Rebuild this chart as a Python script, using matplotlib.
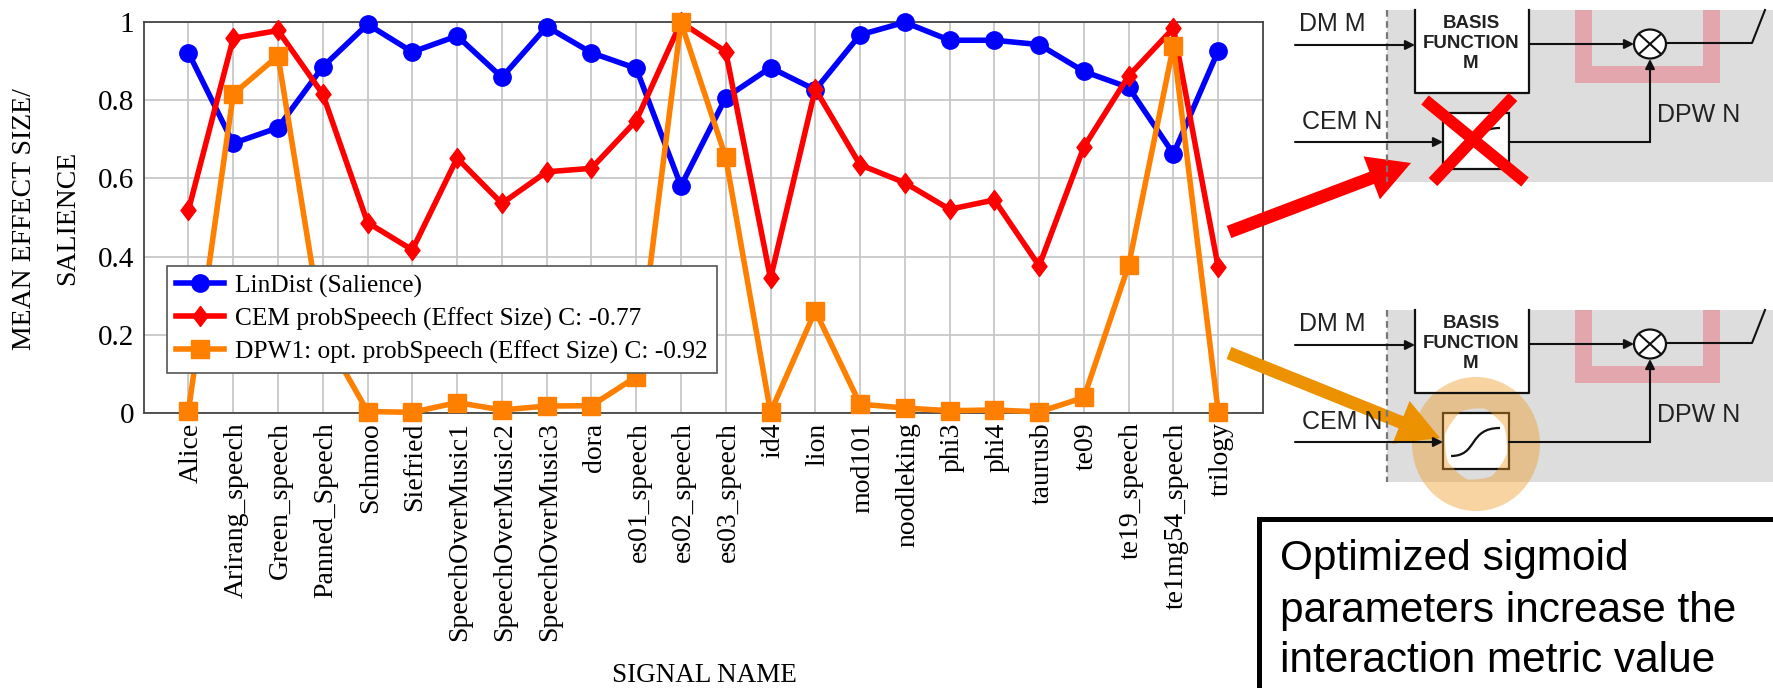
import matplotlib
matplotlib.use("Agg")
import matplotlib.pyplot as plt
from matplotlib.patches import Rectangle, Polygon, Ellipse, FancyArrow, PathPatch
from matplotlib.path import Path
from matplotlib.transforms import Affine2D, ScaledTranslation

signal_names = ["Alice", "Arirang_speech", "Green_speech", "Panned_Speech", "Schmoo", "Siefried",
                "SpeechOverMusic1", "SpeechOverMusic2", "SpeechOverMusic3", "dora", "es01_speech",
                "es02_speech", "es03_speech", "id4", "lion", "mod101", "noodleking", "phi3", "phi4",
                "taurusb", "te09", "te19_speech", "te1mg54_speech", "trilogy"]
lindist = [0.922, 0.69, 0.73, 0.886, 0.995, 0.924, 0.965, 0.859, 0.989, 0.922, 0.882, 0.581,
           0.807, 0.884, 0.827, 0.968, 1.0, 0.954, 0.954, 0.943, 0.874, 0.833, 0.663, 0.927]
cem = [0.519, 0.959, 0.979, 0.816, 0.487, 0.417, 0.652, 0.536, 0.617, 0.626, 0.748, 1.0,
       0.925, 0.344, 0.829, 0.635, 0.589, 0.521, 0.545, 0.376, 0.681, 0.863, 0.985, 0.372]
dpw = [0.005, 0.816, 0.914, 0.205, 0.003, 0.001, 0.026, 0.007, 0.017, 0.018, 0.092, 1.0,
       0.654, 0.001, 0.261, 0.022, 0.012, 0.005, 0.007, 0.002, 0.039, 0.378, 0.94, 0.002]
y_ticks = [0, 0.2, 0.4, 0.6, 0.8, 1]
y_tick_labels = ["0", "0.2", "0.4", "0.6", "0.8", "1"]

W, H = 1773, 688
SERIF = "Liberation Serif"
SANS = "Liberation Sans"

fig = plt.figure(figsize=(W / 100, H / 100), dpi=100)
ax = fig.add_axes([143.7 / W, (H - 412.7) / H, 1119.3 / W, 390.4 / H])

diamond = Path([(0, -1), (0.75, 0), (0, 1), (-0.75, 0), (0, -1)], closed=True)
x = list(range(len(signal_names)))
ax.plot(x, lindist, color="#0000ff", lw=4, marker="o", ms=12.5, clip_on=False, zorder=3,
        label="LinDist (Salience)")
ax.plot(x, cem, color="#ff0000", lw=4, marker=diamond, ms=14.4, clip_on=False, zorder=4,
        label="CEM probSpeech (Effect Size) C: -0.77")
ax.plot(x, dpw, color="#ff8000", lw=4, marker="s", ms=12.5, clip_on=False, zorder=5,
        label="DPW1: opt. probSpeech (Effect Size) C: -0.92")

ax.set_xlim(-1, 24)
ax.set_ylim(0, 1)
ax.set_xticks(x)
ax.set_xticklabels(signal_names, rotation=90, family=SERIF, fontsize=20, ha="center", va="top")
ax.set_yticks(y_ticks)
ax.set_yticklabels(y_tick_labels, family=SERIF, fontsize=21)
ax.tick_params(axis="both", length=0)
ax.tick_params(axis="x", pad=7)
ax.tick_params(axis="y", pad=7)
ax.grid(True, color="#c4c4c4", lw=1.2)
ax.set_axisbelow(True)
for s in ax.spines.values():
    s.set_color("#444444")
    s.set_linewidth(1.3)
# rotated labels sit a little left of their ticks otherwise
shift = ScaledTranslation(2 / 72, 0, fig.dpi_scale_trans)
for lab in ax.get_xticklabels():
    lab.set_transform(lab.get_transform() + shift)

leg = ax.legend(loc="lower left", bbox_to_anchor=((166.7 - 143.7) / 1119.3, (412.7 - 372.7) / 390.4),
                borderaxespad=0, fancybox=False, framealpha=1, edgecolor="#555555",
                prop={"family": SERIF, "size": 18.3}, handlelength=1.9, handletextpad=0.45,
                labelspacing=0.38, borderpad=0.35)
leg.get_frame().set_linewidth(1.2)
leg.set_zorder(6)

# pixel coordinate layer for the block diagrams and the text box
ov = fig.add_axes([0, 0, 1, 1], zorder=10)
ov.set_xlim(0, W)
ov.set_ylim(H, 0)
ov.axis("off")

fig.text(25 / W, 1 - 219 / H, "MEAN EFFECT SIZE/", rotation=90, family=SERIF, fontsize=20,
         ha="center", va="center")
fig.text(68 / W, 1 - 218 / H, "SALIENCE", rotation=90, family=SERIF, fontsize=20,
         ha="center", va="center")
fig.text(704 / W, 1 - 675 / H, "SIGNAL NAME", family=SERIF, fontsize=19.5, ha="center", va="center")


def wire(points, head=False):
    if head:
        ov.plot([p[0] for p in points[:-1]], [p[1] for p in points[:-1]], color="#111111", lw=1.5)
        ov.annotate("", xy=points[-1], xytext=points[-2],
                    arrowprops=dict(arrowstyle="-|>", color="#111111", lw=1.5, mutation_scale=14,
                                    shrinkA=0, shrinkB=0))
    else:
        ov.plot([p[0] for p in points], [p[1] for p in points], color="#111111", lw=1.5)


def draw_block(dy):
    ov.add_patch(Rectangle((1386.5, 10 + dy), W - 1386.5, 172, fc="#dddddd", ec="none"))
    ov.plot([1386.5, 1386.5], [10 + dy, 182 + dy], color="#777777", lw=1.6, ls=(0, (3, 2)))
    ov.add_patch(Polygon([(1574.5, 10 + dy), (1592, 10 + dy), (1592, 66 + dy), (1702.5, 66 + dy),
                          (1702.5, 10 + dy), (1720, 10 + dy), (1720, 83 + dy), (1574.5, 83 + dy)],
                         fc="#e4a6ad", ec="none"))
    ov.add_patch(Rectangle((1415, 10 + dy), 114, 83, fc="white", ec="none"))
    ov.plot([1415, 1415, 1529, 1529], [10 + dy, 93 + dy, 93 + dy, 10 + dy], color="#111111", lw=1.6)
    ov.add_patch(Rectangle((1443, 113 + dy), 65.5, 56, fc="white", ec="#111111", lw=1.6))
    sigmoid = Path([(1451, 156 + dy), (1478, 156 + dy), (1468, 128 + dy), (1500, 128 + dy)],
                   [Path.MOVETO, Path.CURVE4, Path.CURVE4, Path.CURVE4])
    ov.add_patch(PathPatch(sigmoid, fc="none", ec="#111111", lw=1.6))
    wire([(1295, 45 + dy), (1415, 45 + dy)], head=True)
    wire([(1295, 142 + dy), (1443, 142 + dy)], head=True)
    wire([(1529, 44 + dy), (1634, 44 + dy)], head=True)
    wire([(1508.5, 142 + dy), (1650, 142 + dy), (1650, 59 + dy)], head=True)
    wire([(1667, 43 + dy), (1752, 43 + dy), (1765, 10 + dy)])
    ov.add_patch(Ellipse((1650, 44 + dy), 32, 29, fc="white", ec="#111111", lw=1.6))
    wire([(1639, 34 + dy), (1661, 54 + dy)])
    wire([(1639, 54 + dy), (1661, 34 + dy)])
    ov.text(1299, 24 + dy, "DM M", family=SANS, fontsize=18, color="#222222", va="center")
    ov.text(1302, 122 + dy, "CEM N", family=SANS, fontsize=18, color="#222222", va="center")
    ov.text(1657, 115 + dy, "DPW N", family=SANS, fontsize=18, color="#222222", va="center")
    ov.text(1471, 24 + dy, "BASIS", family=SANS, fontsize=13.5, weight="bold", color="#222222",
            ha="center", va="center")
    ov.text(1471, 44 + dy, "FUNCTION", family=SANS, fontsize=13.5, weight="bold", color="#222222",
            ha="center", va="center")
    ov.text(1471, 63 + dy, "M", family=SANS, fontsize=13.5, weight="bold", color="#222222",
            ha="center", va="center")


draw_block(0)
draw_block(300)

# red cross and arrow on the top block
ov.plot([1425, 1525], [100, 182], color="#ff0000", lw=8.5, solid_capstyle="butt")
ov.plot([1513, 1433], [97, 182], color="#ff0000", lw=8.5, solid_capstyle="butt")
ov.add_patch(FancyArrow(1229, 232, 182, -69, width=13, head_width=46, head_length=42,
                        length_includes_head=True, fc="#ff0000", ec="none"))

# orange ring and arrow on the bottom block
outer = Path.unit_circle().transformed(Affine2D().scale(64, 67).translate(1476, 444))
inner = Path.unit_circle().transformed(Affine2D().scale(31, 35.5).translate(1476, 444))
inner = Path(inner.vertices[::-1], inner.codes)
ov.add_patch(PathPatch(Path.make_compound_path(outer, inner), fc="#ee9a22", ec="none", alpha=0.42))
ov.add_patch(FancyArrow(1229, 353, 211, 85, width=13, head_width=46, head_length=42,
                        length_includes_head=True, fc="#ec9200", ec="none"))

# text box, runs off the right and bottom edges
ov.add_patch(Rectangle((1259, 519), 600, 300, fc="white", ec="black", lw=3.6))
for line, base in zip(["Optimized sigmoid", "parameters increase the", "interaction metric value"],
                      [570, 622, 672]):
    ov.text(1280, base, line, family=SANS, fontsize=30.5, color="black", va="baseline")

fig.savefig("out.png", dpi=100)
